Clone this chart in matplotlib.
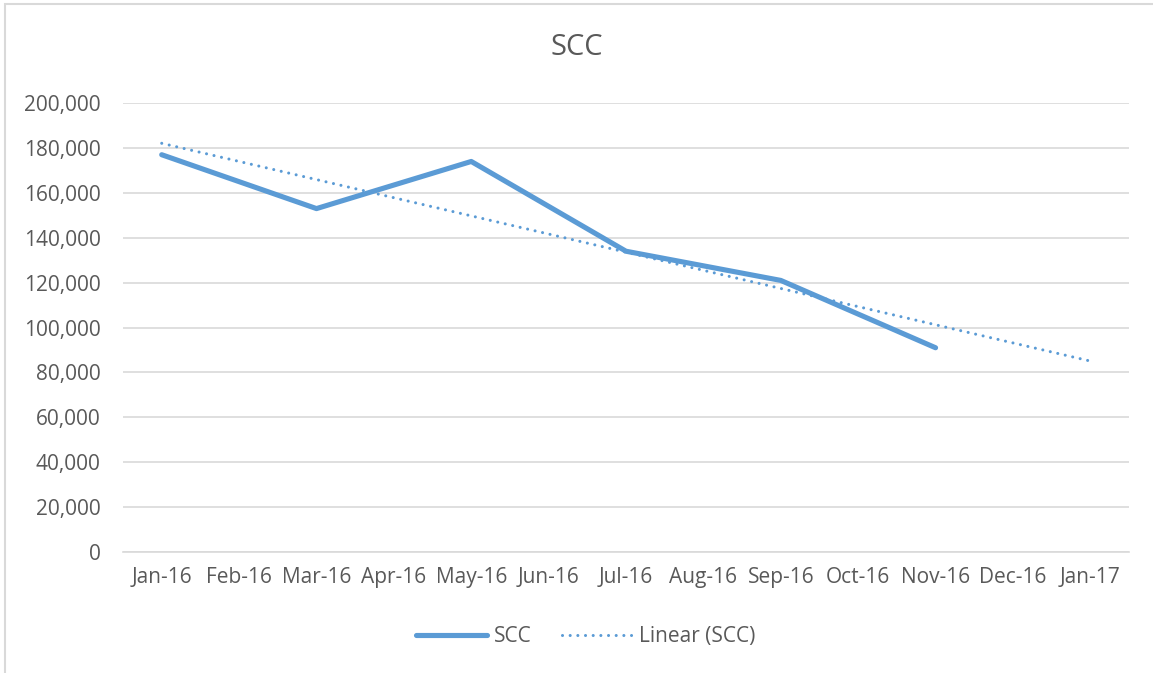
import numpy as np
import matplotlib.pyplot as plt
from matplotlib.patches import Rectangle

# data
months = ["Jan-16", "Feb-16", "Mar-16", "Apr-16", "May-16", "Jun-16", "Jul-16",
          "Aug-16", "Sep-16", "Oct-16", "Nov-16", "Dec-16", "Jan-17"]
scc_months = ["Jan-16", "Mar-16", "May-16", "Jul-16", "Sep-16", "Nov-16"]
scc_values = [177000, 153000, 174000, 134000, 121000, 91000]

plt.rcParams['font.family'] = ['Open Sans', 'DejaVu Sans']
text_col = "#595959"
blue = "#5B9BD5"

fig = plt.figure(figsize=(11.53, 6.73), dpi=100)
ax = fig.add_axes([0.1067, 0.1798, 0.8725, 0.667])

x_all = np.arange(len(months))
x_scc = np.array([months.index(m) for m in scc_months])

# Excel style linear trendline, fitted to the SCC points
slope, icpt = np.polyfit(x_scc, scc_values, 1)
trend = slope * x_all + icpt

ax.plot(x_scc, scc_values, color=blue, lw=3.7, solid_capstyle="round",
        solid_joinstyle="round", label="SCC", zorder=3)
ax.plot(x_all, trend, color=blue, lw=2.2, linestyle=(0, (0.01, 2.5)),
        dash_capstyle="round", label="Linear (SCC)", zorder=4)

ax.set_xlim(-0.5, len(months) - 0.5)
ax.set_ylim(0, 200000)
ax.set_yticks(np.arange(0, 200001, 20000))
ax.yaxis.set_major_formatter(plt.FuncFormatter(lambda v, p: f"{int(v):,}"))
ax.set_xticks(x_all)
ax.set_xticklabels(months)
ax.grid(axis="y", color="#D9D9D9", lw=1.2)
ax.set_axisbelow(True)
for s in ["top", "right", "left"]:
    ax.spines[s].set_visible(False)
ax.spines["bottom"].set_color("#D9D9D9")
ax.spines["bottom"].set_linewidth(1.2)
ax.tick_params(axis="both", length=0, labelsize=15, labelcolor=text_col)
ax.tick_params(axis="y", pad=16)
ax.tick_params(axis="x", pad=11)

fig.text(0.5, 0.930, "SCC", ha="center", va="center", fontsize=21, color=text_col)

leg = fig.legend(loc="center", bbox_to_anchor=(0.508, 0.0535), ncol=2, frameon=False,
                 fontsize=15, labelcolor=text_col, handlelength=3.4,
                 handletextpad=0.3, columnspacing=1.45)

# light chart border (only left and top edges fall inside the image)
fig.patches.append(Rectangle((5 / 1153, -0.1), 1.2, 1.1 - 4 / 673, transform=fig.transFigure,
                             fill=False, edgecolor="#D9D9D9", lw=1.5))

fig.savefig("out.png", dpi=100)
